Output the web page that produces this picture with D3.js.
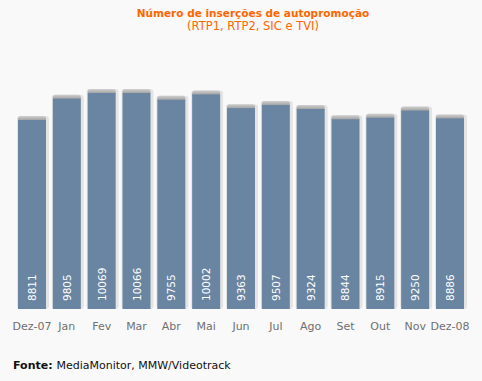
<!DOCTYPE html>
<html><head><meta charset="utf-8">
<script src="https://cdn.jsdelivr.net/npm/d3@7"></script>
<style>body{margin:0;background:#f9f9f9;}svg{display:block;}</style>
</head><body>
<script>
const categories = ["Dez-07","Jan","Fev","Mar","Abr","Mai","Jun","Jul","Ago","Set","Out","Nov","Dez-08"];
const values = [8811,9805,10069,10066,9755,10002,9363,9507,9324,8844,8915,9250,8886];
const title = "Número de inserções de autopromoção";
const subtitle = "(RTP1, RTP2, SIC e TVI)";
const source = "MediaMonitor, MMW/Videotrack";

const W=482,H=381;
const svg=d3.select("body").append("svg").attr("width",W).attr("height",H);
svg.append("rect").attr("width",W).attr("height",H).attr("fill","#f9f9f9");
const font="Verdana, 'DejaVu Sans', sans-serif";

const defs=svg.append("defs");
const g1=defs.append("linearGradient").attr("id","cap").attr("x1",0).attr("y1",0).attr("x2",0).attr("y2",1);
g1.append("stop").attr("offset","0%").attr("stop-color","#d0d0d0");
g1.append("stop").attr("offset","100%").attr("stop-color","#8e8e8e");

const base=309;
const x=d3.scaleBand().domain(categories).range([18,464]).paddingInner(0.196).paddingOuter(0);
const y=d3.scaleLinear().domain([0,10000]).range([base,94.5]);

const bars=svg.append("g").selectAll("g").data(values).join("g");
bars.append("rect")
  .attr("x",(d,i)=>x(categories[i])-1)
  .attr("y",d=>y(d)-4)
  .attr("width",x.bandwidth()+4)
  .attr("height",d=>base-y(d)+4)
  .attr("rx",3)
  .attr("fill","#e4e4e4");
bars.append("rect")
  .attr("x",(d,i)=>x(categories[i]))
  .attr("y",d=>y(d)-4)
  .attr("width",x.bandwidth())
  .attr("height",6)
  .attr("rx",2.5)
  .attr("fill","url(#cap)");
bars.append("rect")
  .attr("x",(d,i)=>x(categories[i]))
  .attr("y",d=>y(d))
  .attr("width",x.bandwidth())
  .attr("height",d=>base-y(d))
  .attr("fill","#6a85a2");
bars.append("text")
  .attr("transform",(d,i)=>`translate(${x(categories[i])+x.bandwidth()/2+4},301) rotate(-90)`)
  .attr("font-family",font).attr("font-size","10.5px").attr("fill","#fff")
  .text(d=>d);

const xAxis=svg.append("g").attr("transform",`translate(0,${base})`)
  .call(d3.axisBottom(x).tickSize(0).tickPadding(13));
xAxis.select(".domain").remove();
xAxis.selectAll("text").attr("font-family",font).attr("font-size","11px").attr("fill","#707070");

svg.append("text").attr("x",253).attr("y",17).attr("text-anchor","middle")
  .attr("font-family",font).attr("font-size","10.5px").attr("font-weight","bold").attr("fill","#ff6600").text(title);
svg.append("text").attr("x",253).attr("y",30).attr("text-anchor","middle")
  .attr("font-family",font).attr("font-size","11.5px").attr("fill","#ff6600").text(subtitle);

const src=svg.append("text").attr("x",13).attr("y",369).attr("font-family",font).attr("font-size","11px").attr("fill","#111");
src.append("tspan").attr("font-weight","bold").text("Fonte: ");
src.append("tspan").text(source);
</script>
</body></html>
